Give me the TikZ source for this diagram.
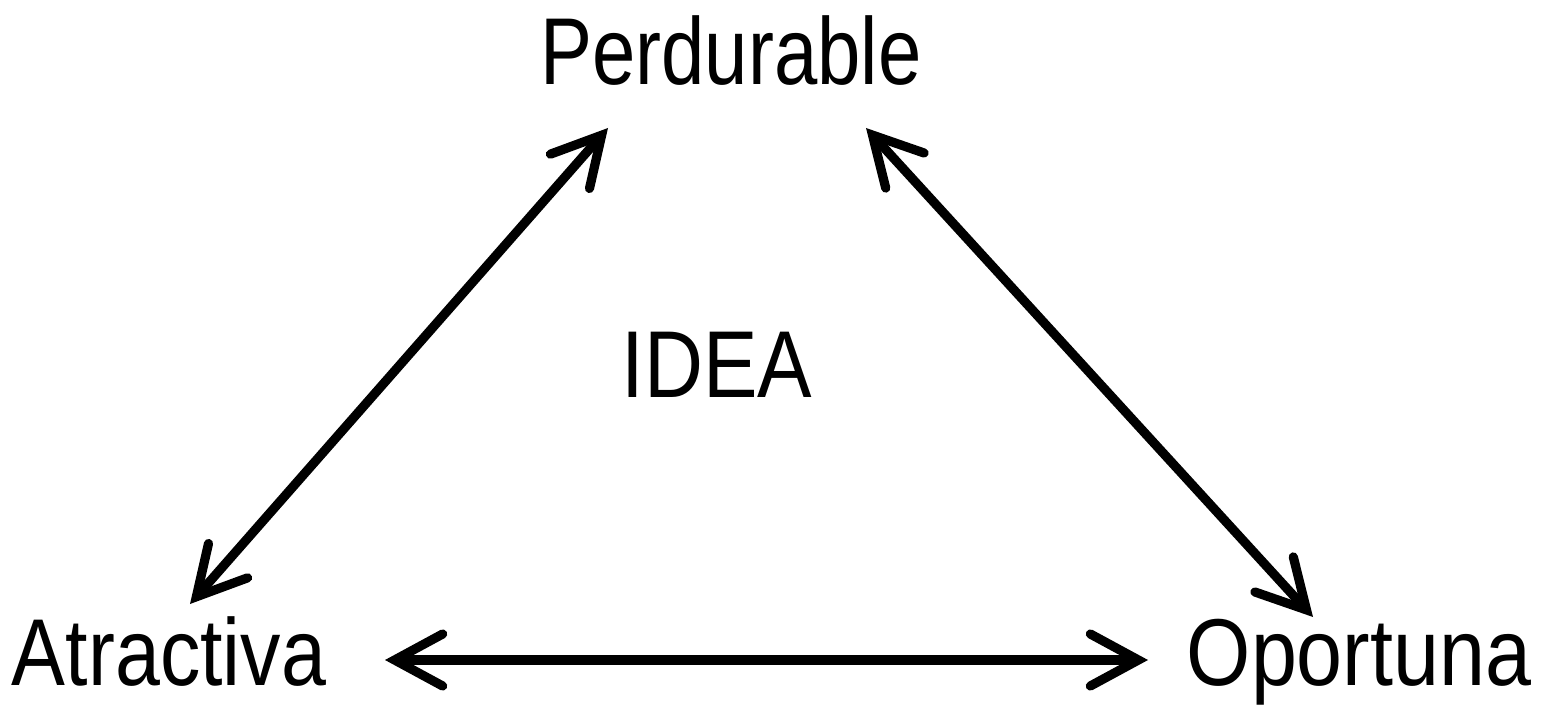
\documentclass[tikz,border=0pt]{standalone}
\usepackage{fontspec}
\setmainfont{Liberation Sans}
\usetikzlibrary{arrows.meta}
\newcommand{\narrow}[2]{\scalebox{#1}[1]{#2}}
\tikzset{
  lbl/.style={anchor=base, inner sep=0pt, font=\fontsize{47.5}{50}\selectfont},
  link/.style={line width=4.6pt, {Straight Barb[length=24pt,width=26pt,line cap=round]}-{Straight Barb[length=24pt,width=26pt,line cap=round]}}
}
\begin{document}
\begin{tikzpicture}[x=0.5pt,y=-0.5pt]
\useasboundingbox (0,0) rectangle (1547,705);
\node[lbl] (per) at (731,85) {\narrow{0.82}{Perdurable}};
\node[lbl] (idea) at (717,398) {\narrow{0.86}{IDEA}};
\node[lbl] (atr) at (169,685) {\narrow{0.85}{Atractiva}};
\node[lbl] (opo) at (1359,685) {\narrow{0.87}{Oportuna}};
\coordinate (pl) at (608,128);
\coordinate (pr) at (866,128);
\coordinate (at) at (190,604);
\coordinate (ar) at (385,660);
\coordinate (ol) at (1148,660);
\coordinate (ot) at (1313,617);
\draw[link] (pl) -- (at);
\draw[link] (pr) -- (ot);
\draw[link] (ar) -- (ol);
\end{tikzpicture}
\end{document}
